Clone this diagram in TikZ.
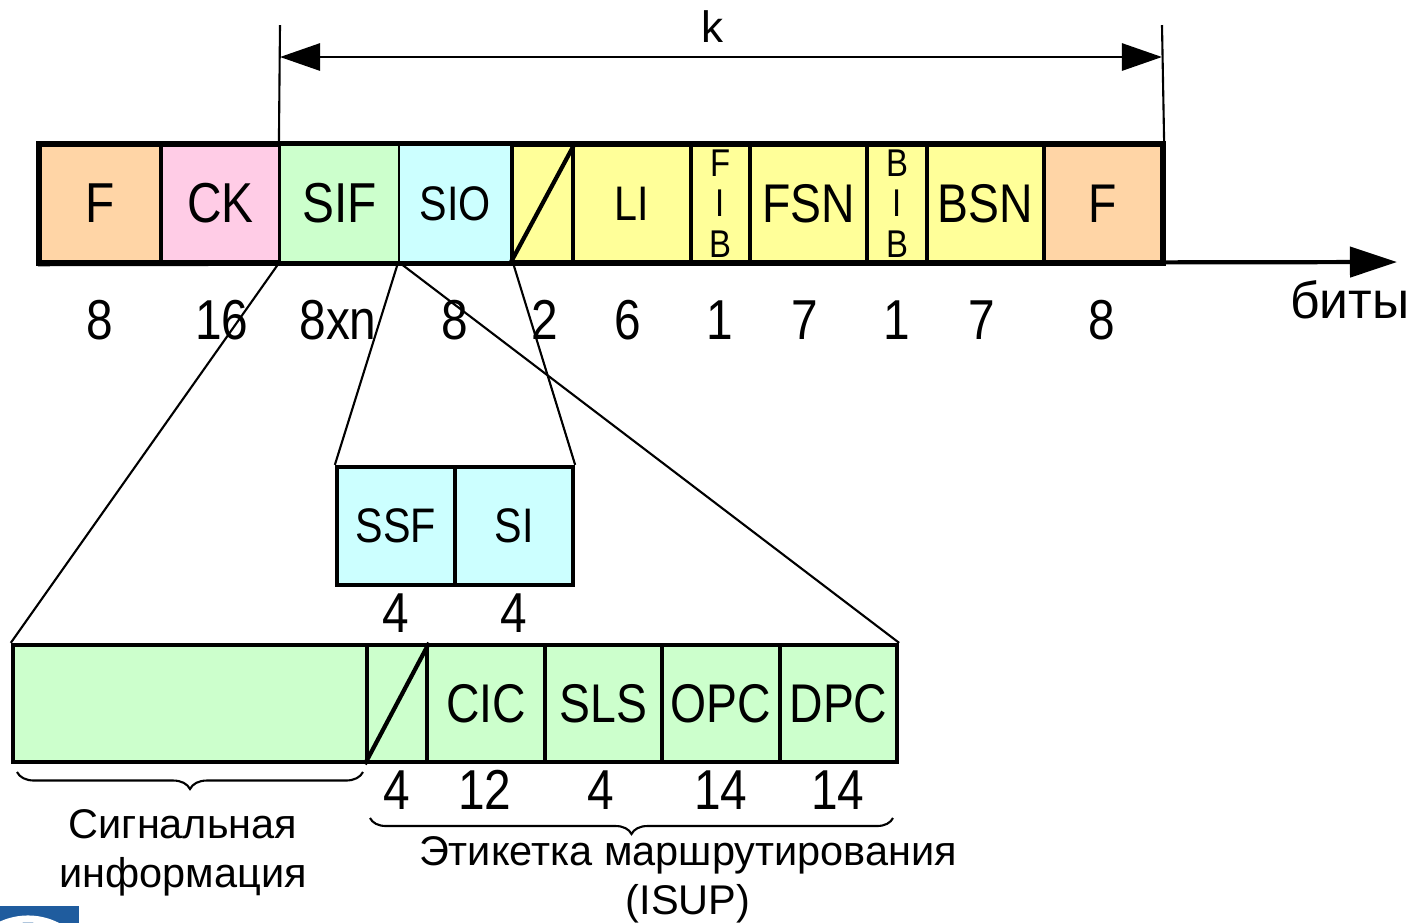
\documentclass[tikz,border=0pt]{standalone}
\usepackage{fontspec}
\setmainfont{Liberation Sans}
\newfontfamily\narrowsf{Liberation Sans}[FakeStretch=0.85]
\usetikzlibrary{arrows.meta, decorations.pathreplacing}

\definecolor{flagcol}{HTML}{FFD5A6}
\definecolor{ckcol}{HTML}{FFCCE6}
\definecolor{sifcol}{HTML}{CCFFCC}
\definecolor{siocol}{HTML}{CCFFFF}
\definecolor{lsscol}{HTML}{FFFF99}
\definecolor{logocol}{HTML}{1F5C9E}

\tikzset{
  field/.style={draw, line width=1.2pt, inner sep=0pt, minimum height=1.17cm,
    font=\narrowsf\fontsize{15.5}{17}\selectfont},
  bigtxt/.style={font=\narrowsf\fontsize{16}{18}\selectfont},
  smalltxt/.style={font=\narrowsf\fontsize{13.8}{16}\selectfont},
  tinytxt/.style={font=\narrowsf\fontsize{11}{11.5}\selectfont, align=center},
  bits/.style={font=\narrowsf\fontsize{16}{18}\selectfont, inner sep=0pt},
  thinfield/.style={line width=0.6pt},
  frame/.style={line width=1.2pt},
  link/.style={line width=0.6pt},
  dim/.style={line width=0.8pt,
    {Triangle[length=4mm,width=2.7mm]}-{Triangle[length=4mm,width=2.7mm]}},
  axis/.style={line width=1.2pt, -{Triangle[length=4.7mm,width=3mm]}},
  curly/.style={line width=0.6pt, decorate, decoration={brace, mirror, amplitude=0.17cm}},
  caption/.style={font=\fontsize{11.8}{13.8}\selectfont, align=center, inner sep=0pt},
}

\begin{document}
\begin{tikzpicture}[x=0.01cm, y=-0.01cm]
  \useasboundingbox (0,0) rectangle (1414,923);

  % signal unit
  \node[field, fill=flagcol, minimum width=1.21cm, bigtxt] (f1) at (100.5,203.5) {F};
  \node[field, fill=ckcol, minimum width=1.19cm, bigtxt] (ck) at (220.5,203.5) {CK};
  \node[field, thinfield, fill=sifcol, minimum width=1.19cm, bigtxt] (sif) at (339.5,203.5) {SIF};
  \node[field, thinfield, fill=siocol, minimum width=1.13cm, smalltxt] (sio) at (455.5,203.5) {SIO};
  \node[field, fill=lsscol, minimum width=0.61cm] (sp1) at (542.5,203.5) {};
  \node[field, fill=lsscol, minimum width=1.18cm, smalltxt] (li) at (632,203.5) {LI};
  \node[field, fill=lsscol, minimum width=0.59cm, tinytxt] (fib) at (720.5,203.5) {F\\I\\B};
  \node[field, fill=lsscol, minimum width=1.17cm] (fsn) at (808.5,203.5) {FSN};
  \node[field, fill=lsscol, minimum width=0.60cm, tinytxt] (bib) at (897,203.5) {B\\I\\B};
  \node[field, fill=lsscol, minimum width=1.17cm] (bsn) at (985.5,203.5) {BSN};
  \node[field, fill=flagcol, minimum width=1.18cm] (f2) at (1103,203.5) {F};
  \draw[frame] (f1.north west) rectangle (f2.south east);
  \draw[frame] (sp1.south west) -- (sp1.north east);

  % bit axis
  \coordinate (axend) at (1397,262);
  \draw[axis] (f1.south west) -- (axend);
  \node[font=\fontsize{14.7}{16}\selectfont] (bity) at (1350,300) {биты};

  % length k
  \coordinate (kl) at (280,25);
  \coordinate (kr) at (1162,25);
  \coordinate (ka) at (280,57);
  \coordinate (kb) at (1162,57);
  \draw[link] (sif.north west) -- (kl);
  \draw[link] (f2.north east) -- (kr);
  \draw[dim] (ka) -- (kb);
  \node[font=\fontsize{12.5}{14}\selectfont] (k) at (712,27) {k};

  \foreach \x/\t in {100/8, 222/16, 338/8xn, 455/8, 545/2, 628/6, 720/1, 805/7, 897/1, 982/7, 1102/8}
    \node[bits] (top\x) at (\x,320) {\t};

  % SIO octet
  \node[field, fill=siocol, minimum width=1.18cm, minimum height=1.18cm, smalltxt] (ssf) at (396,526) {SSF};
  \node[field, fill=siocol, minimum width=1.18cm, minimum height=1.18cm, smalltxt] (si) at (514,526) {SI};
  \foreach \x in {396, 514}
    \node[bits] (mid\x) at (\x,613) {4};

  % SIF contents
  \node[field, fill=sifcol, minimum width=3.54cm] (sig) at (190,703.5) {};
  \node[field, fill=sifcol, minimum width=0.60cm] (sp2) at (397,703.5) {};
  \node[field, fill=sifcol, minimum width=1.18cm] (cic) at (486,703.5) {CIC};
  \node[field, fill=sifcol, minimum width=1.17cm] (sls) at (603.5,703.5) {SLS};
  \node[field, fill=sifcol, minimum width=1.18cm] (opc) at (721,703.5) {OPC};
  \node[field, fill=sifcol, minimum width=1.17cm] (dpc) at (838.5,703.5) {DPC};
  \draw[frame] (sp2.south west) -- (sp2.north east);
  \foreach \x/\t in {397/4, 485/12, 601/4, 721/14, 838/14}
    \node[bits] (low\x) at (\x,790) {\t};

  % zoom lines
  \draw[link] (sif.south west) -- (sig.north west);
  \draw[link] (sif.south east) -- (dpc.north east);
  \draw[link] (sio.south west) -- (ssf.north west);
  \draw[link] (sio.south east) -- (si.north east);

  % braces
  \coordinate (bl1) at (17,772);
  \coordinate (bl2) at (363,772);
  \coordinate (br1) at (370,818);
  \coordinate (br2) at (893,818);
  \draw[curly] (bl1) -- (bl2);
  \draw[curly, decoration={amplitude=0.16cm}] (br1) -- (br2);
  \node[caption] (sigtxt) at (183,853) {Сигнальная\\информация};
  \node[caption] (labtxt) at (688,880) {Этикетка маршрутирования\\(ISUP)};

  % logo corner
  \fill[logocol] (0,906) rectangle (79,923);
  \begin{scope}
    \clip (0,906) rectangle (79,923);
    \draw[white, line width=2pt] (28,983) circle[radius=0.64cm];
  \end{scope}
\end{tikzpicture}
\end{document}
